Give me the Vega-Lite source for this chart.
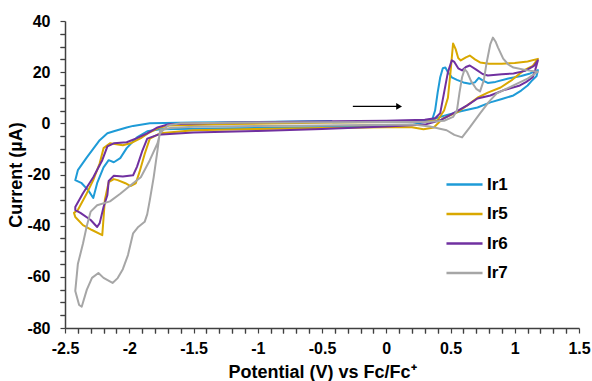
{
  "$schema": "https://vega.github.io/schema/vega-lite/v6.json",
  "width": 514,
  "height": 307,
  "autosize": {"type": "none"},
  "padding": {"left": 65, "top": 21, "right": 13, "bottom": 53},
  "background": "white",
  "config": {
    "view": {"stroke": null},
    "font": "Liberation Sans",
    "legend": {
      "orient": "none",
      "legendX": 380,
      "legendY": 144,
      "title": null,
      "symbolType": "stroke",
      "symbolSize": 1300,
      "symbolStrokeWidth": 2.5,
      "labelFont": "Liberation Sans",
      "labelFontSize": 17,
      "labelFontWeight": "bold",
      "labelColor": "black",
      "rowPadding": 1.5,
      "labelOffset": 3
    },
    "axis": {
      "grid": false,
      "domainColor": "#404040", "domainWidth": 1.5,
      "tickColor": "#404040", "tickWidth": 1.2, "tickSize": 5,
      "labelFont": "Liberation Sans", "labelFontSize": 16, "labelFontWeight": "bold", "labelColor": "black",
      "labelFlush": false, "labelOverlap": false,
      "titleFont": "Liberation Sans", "titleFontSize": 18, "titleFontWeight": "bold", "titleColor": "black"
    }
  },
  "datasets": {
    "cv": [
      {"s":"Ir1","i":0,"E":-0.42,"I":0.4},{"s":"Ir1","i":1,"E":-0.2,"I":0.5},{"s":"Ir1","i":2,"E":0.0,"I":0.6},{"s":"Ir1","i":3,"E":0.2,"I":0.8},{"s":"Ir1","i":4,"E":0.3,"I":1.0},{"s":"Ir1","i":5,"E":0.36,"I":1.8},{"s":"Ir1","i":6,"E":0.38,"I":5},{"s":"Ir1","i":7,"E":0.40,"I":12},{"s":"Ir1","i":8,"E":0.42,"I":18},{"s":"Ir1","i":9,"E":0.44,"I":21.5},{"s":"Ir1","i":10,"E":0.46,"I":21.8},{"s":"Ir1","i":11,"E":0.48,"I":20},{"s":"Ir1","i":12,"E":0.51,"I":18},{"s":"Ir1","i":13,"E":0.55,"I":17},{"s":"Ir1","i":14,"E":0.6,"I":16},{"s":"Ir1","i":15,"E":0.65,"I":15.5},{"s":"Ir1","i":16,"E":0.69,"I":16},{"s":"Ir1","i":17,"E":0.72,"I":17.8},{"s":"Ir1","i":18,"E":0.75,"I":16.8},{"s":"Ir1","i":19,"E":0.79,"I":15.8},{"s":"Ir1","i":20,"E":0.85,"I":16.2},{"s":"Ir1","i":21,"E":0.95,"I":17.5},{"s":"Ir1","i":22,"E":1.05,"I":18.5},{"s":"Ir1","i":23,"E":1.12,"I":19.5},{"s":"Ir1","i":24,"E":1.18,"I":20.8},{"s":"Ir1","i":25,"E":1.17,"I":18.5},{"s":"Ir1","i":26,"E":1.13,"I":16.5},{"s":"Ir1","i":27,"E":1.10,"I":14.8},{"s":"Ir1","i":28,"E":1.05,"I":12.8},{"s":"Ir1","i":29,"E":0.99,"I":10.9},{"s":"Ir1","i":30,"E":0.9,"I":9.5},{"s":"Ir1","i":31,"E":0.81,"I":8.2},{"s":"Ir1","i":32,"E":0.71,"I":6.2},{"s":"Ir1","i":33,"E":0.58,"I":4.7},{"s":"Ir1","i":34,"E":0.46,"I":3.1},{"s":"Ir1","i":35,"E":0.38,"I":1.9},{"s":"Ir1","i":36,"E":0.3,"I":0.5},{"s":"Ir1","i":37,"E":0.2,"I":-0.6},{"s":"Ir1","i":38,"E":0.0,"I":-1.0},{"s":"Ir1","i":39,"E":-0.5,"I":-1.4},{"s":"Ir1","i":40,"E":-1.0,"I":-1.8},{"s":"Ir1","i":41,"E":-1.5,"I":-2.1},{"s":"Ir1","i":42,"E":-1.76,"I":-2.3},{"s":"Ir1","i":43,"E":-1.86,"I":-3.1},{"s":"Ir1","i":44,"E":-1.94,"I":-5.5},{"s":"Ir1","i":45,"E":-2.02,"I":-9.7},{"s":"Ir1","i":46,"E":-2.07,"I":-13.6},{"s":"Ir1","i":47,"E":-2.12,"I":-15.2},{"s":"Ir1","i":48,"E":-2.16,"I":-14.4},{"s":"Ir1","i":49,"E":-2.20,"I":-17.2},{"s":"Ir1","i":50,"E":-2.25,"I":-23.4},{"s":"Ir1","i":51,"E":-2.28,"I":-29.2},{"s":"Ir1","i":52,"E":-2.32,"I":-26.1},{"s":"Ir1","i":53,"E":-2.37,"I":-23.4},{"s":"Ir1","i":54,"E":-2.42,"I":-22.2},{"s":"Ir1","i":55,"E":-2.40,"I":-18.3},{"s":"Ir1","i":56,"E":-2.33,"I":-13.3},{"s":"Ir1","i":57,"E":-2.23,"I":-6.6},{"s":"Ir1","i":58,"E":-2.17,"I":-3.9},{"s":"Ir1","i":59,"E":-2.12,"I":-3.1},{"s":"Ir1","i":60,"E":-2.02,"I":-1.6},{"s":"Ir1","i":61,"E":-1.97,"I":-1.0},{"s":"Ir1","i":62,"E":-1.84,"I":0},{"s":"Ir1","i":63,"E":-1.5,"I":0.3},{"s":"Ir1","i":64,"E":-1.0,"I":0.5},{"s":"Ir1","i":65,"E":-0.6,"I":0.8},{"s":"Ir1","i":66,"E":-0.42,"I":0.9},

      {"s":"Ir5","i":0,"E":-0.42,"I":0.3},{"s":"Ir5","i":1,"E":0.0,"I":0.5},{"s":"Ir5","i":2,"E":0.3,"I":0.6},{"s":"Ir5","i":3,"E":0.4,"I":1.2},{"s":"Ir5","i":4,"E":0.45,"I":5},{"s":"Ir5","i":5,"E":0.48,"I":10},{"s":"Ir5","i":6,"E":0.50,"I":20},{"s":"Ir5","i":7,"E":0.52,"I":31.2},{"s":"Ir5","i":8,"E":0.54,"I":29},{"s":"Ir5","i":9,"E":0.56,"I":25.5},{"s":"Ir5","i":10,"E":0.58,"I":24.6},{"s":"Ir5","i":11,"E":0.62,"I":25.8},{"s":"Ir5","i":12,"E":0.65,"I":26.5},{"s":"Ir5","i":13,"E":0.69,"I":25},{"s":"Ir5","i":14,"E":0.73,"I":23.8},{"s":"Ir5","i":15,"E":0.8,"I":23.3},{"s":"Ir5","i":16,"E":0.9,"I":23.3},{"s":"Ir5","i":17,"E":1.0,"I":23.6},{"s":"Ir5","i":18,"E":1.1,"I":24.2},{"s":"Ir5","i":19,"E":1.18,"I":25.2},{"s":"Ir5","i":20,"E":1.14,"I":22.5},{"s":"Ir5","i":21,"E":1.07,"I":20.7},{"s":"Ir5","i":22,"E":0.98,"I":17},{"s":"Ir5","i":23,"E":0.89,"I":14},{"s":"Ir5","i":24,"E":0.79,"I":12},{"s":"Ir5","i":25,"E":0.71,"I":10},{"s":"Ir5","i":26,"E":0.63,"I":7},{"s":"Ir5","i":27,"E":0.55,"I":4.3},{"s":"Ir5","i":28,"E":0.44,"I":1.9},{"s":"Ir5","i":29,"E":0.37,"I":-1.6},{"s":"Ir5","i":30,"E":0.29,"I":-2.3},{"s":"Ir5","i":31,"E":0.2,"I":-1.5},{"s":"Ir5","i":32,"E":0.0,"I":-1.5},{"s":"Ir5","i":33,"E":-0.5,"I":-1.8},{"s":"Ir5","i":34,"E":-1.0,"I":-2.2},{"s":"Ir5","i":35,"E":-1.5,"I":-2.7},{"s":"Ir5","i":36,"E":-1.76,"I":-3.9},{"s":"Ir5","i":37,"E":-1.84,"I":-6},{"s":"Ir5","i":38,"E":-1.88,"I":-12},{"s":"Ir5","i":39,"E":-1.92,"I":-19},{"s":"Ir5","i":40,"E":-1.95,"I":-23.5},{"s":"Ir5","i":41,"E":-1.99,"I":-24.5},{"s":"Ir5","i":42,"E":-2.03,"I":-23.4},{"s":"Ir5","i":43,"E":-2.09,"I":-22.2},{"s":"Ir5","i":44,"E":-2.12,"I":-21.8},{"s":"Ir5","i":45,"E":-2.16,"I":-23},{"s":"Ir5","i":46,"E":-2.19,"I":-30},{"s":"Ir5","i":47,"E":-2.2,"I":-37},{"s":"Ir5","i":48,"E":-2.21,"I":-43.7},{"s":"Ir5","i":49,"E":-2.29,"I":-41.7},{"s":"Ir5","i":50,"E":-2.36,"I":-39.8},{"s":"Ir5","i":51,"E":-2.42,"I":-36.6},{"s":"Ir5","i":52,"E":-2.43,"I":-35},{"s":"Ir5","i":53,"E":-2.40,"I":-33.9},{"s":"Ir5","i":54,"E":-2.33,"I":-27.3},{"s":"Ir5","i":55,"E":-2.28,"I":-22.2},{"s":"Ir5","i":56,"E":-2.23,"I":-15.6},{"s":"Ir5","i":57,"E":-2.2,"I":-9.7},{"s":"Ir5","i":58,"E":-2.15,"I":-7.8},{"s":"Ir5","i":59,"E":-2.05,"I":-8.6},{"s":"Ir5","i":60,"E":-1.99,"I":-7.8},{"s":"Ir5","i":61,"E":-1.91,"I":-5.8},{"s":"Ir5","i":62,"E":-1.84,"I":-3.5},{"s":"Ir5","i":63,"E":-1.76,"I":-1.6},{"s":"Ir5","i":64,"E":-1.68,"I":-0.8},{"s":"Ir5","i":65,"E":-1.2,"I":-0.3},{"s":"Ir5","i":66,"E":-0.42,"I":0.3},

      {"s":"Ir6","i":0,"E":-0.42,"I":0.8},{"s":"Ir6","i":1,"E":0.0,"I":1.0},{"s":"Ir6","i":2,"E":0.3,"I":1.4},{"s":"Ir6","i":3,"E":0.38,"I":2},{"s":"Ir6","i":4,"E":0.42,"I":4},{"s":"Ir6","i":5,"E":0.45,"I":12},{"s":"Ir6","i":6,"E":0.48,"I":20},{"s":"Ir6","i":7,"E":0.51,"I":24.6},{"s":"Ir6","i":8,"E":0.53,"I":24},{"s":"Ir6","i":9,"E":0.56,"I":21.5},{"s":"Ir6","i":10,"E":0.59,"I":20.7},{"s":"Ir6","i":11,"E":0.62,"I":22},{"s":"Ir6","i":12,"E":0.65,"I":22.6},{"s":"Ir6","i":13,"E":0.7,"I":21},{"s":"Ir6","i":14,"E":0.75,"I":19.3},{"s":"Ir6","i":15,"E":0.79,"I":18.7},{"s":"Ir6","i":16,"E":0.9,"I":19.2},{"s":"Ir6","i":17,"E":0.99,"I":19.5},{"s":"Ir6","i":18,"E":1.08,"I":20.5},{"s":"Ir6","i":19,"E":1.15,"I":22.5},{"s":"Ir6","i":20,"E":1.18,"I":24.6},{"s":"Ir6","i":21,"E":1.16,"I":21},{"s":"Ir6","i":22,"E":1.14,"I":18},{"s":"Ir6","i":23,"E":1.09,"I":16.2},{"s":"Ir6","i":24,"E":1.04,"I":14.8},{"s":"Ir6","i":25,"E":0.91,"I":12.9},{"s":"Ir6","i":26,"E":0.81,"I":10.9},{"s":"Ir6","i":27,"E":0.71,"I":9.7},{"s":"Ir6","i":28,"E":0.63,"I":7},{"s":"Ir6","i":29,"E":0.52,"I":3.9},{"s":"Ir6","i":30,"E":0.42,"I":1.2},{"s":"Ir6","i":31,"E":0.3,"I":-0.5},{"s":"Ir6","i":32,"E":0.0,"I":-1.2},{"s":"Ir6","i":33,"E":-0.5,"I":-2.2},{"s":"Ir6","i":34,"E":-1.0,"I":-3.0},{"s":"Ir6","i":35,"E":-1.5,"I":-3.6},{"s":"Ir6","i":36,"E":-1.78,"I":-4.5},{"s":"Ir6","i":37,"E":-1.86,"I":-6},{"s":"Ir6","i":38,"E":-1.90,"I":-11},{"s":"Ir6","i":39,"E":-1.94,"I":-17},{"s":"Ir6","i":40,"E":-1.97,"I":-20.3},{"s":"Ir6","i":41,"E":-2.05,"I":-20.8},{"s":"Ir6","i":42,"E":-2.12,"I":-20.5},{"s":"Ir6","i":43,"E":-2.16,"I":-22.5},{"s":"Ir6","i":44,"E":-2.17,"I":-28},{"s":"Ir6","i":45,"E":-2.20,"I":-32.7},{"s":"Ir6","i":46,"E":-2.23,"I":-39},{"s":"Ir6","i":47,"E":-2.25,"I":-40.5},{"s":"Ir6","i":48,"E":-2.30,"I":-37.8},{"s":"Ir6","i":49,"E":-2.38,"I":-35},{"s":"Ir6","i":50,"E":-2.42,"I":-33.9},{"s":"Ir6","i":51,"E":-2.42,"I":-32.7},{"s":"Ir6","i":52,"E":-2.36,"I":-27.3},{"s":"Ir6","i":53,"E":-2.28,"I":-21.1},{"s":"Ir6","i":54,"E":-2.21,"I":-14.4},{"s":"Ir6","i":55,"E":-2.17,"I":-9},{"s":"Ir6","i":56,"E":-2.12,"I":-7.8},{"s":"Ir6","i":57,"E":-2.02,"I":-7.4},{"s":"Ir6","i":58,"E":-1.94,"I":-5.8},{"s":"Ir6","i":59,"E":-1.86,"I":-3.9},{"s":"Ir6","i":60,"E":-1.78,"I":-1.6},{"s":"Ir6","i":61,"E":-1.70,"I":-0.4},{"s":"Ir6","i":62,"E":-1.2,"I":0.3},{"s":"Ir6","i":63,"E":-0.42,"I":0.8},

      {"s":"Ir7","i":0,"E":-0.42,"I":0.4},{"s":"Ir7","i":1,"E":0.0,"I":0.5},{"s":"Ir7","i":2,"E":0.3,"I":0.5},{"s":"Ir7","i":3,"E":0.45,"I":1},{"s":"Ir7","i":4,"E":0.52,"I":2.5},{"s":"Ir7","i":5,"E":0.55,"I":5},{"s":"Ir7","i":6,"E":0.57,"I":12},{"s":"Ir7","i":7,"E":0.59,"I":18},{"s":"Ir7","i":8,"E":0.61,"I":21.2},{"s":"Ir7","i":9,"E":0.63,"I":20},{"s":"Ir7","i":10,"E":0.66,"I":16.5},{"s":"Ir7","i":11,"E":0.70,"I":13.5},{"s":"Ir7","i":12,"E":0.73,"I":12.5},{"s":"Ir7","i":13,"E":0.76,"I":17},{"s":"Ir7","i":14,"E":0.78,"I":23.4},{"s":"Ir7","i":15,"E":0.81,"I":31},{"s":"Ir7","i":16,"E":0.83,"I":33.5},{"s":"Ir7","i":17,"E":0.85,"I":32},{"s":"Ir7","i":18,"E":0.87,"I":29.6},{"s":"Ir7","i":19,"E":0.91,"I":25.3},{"s":"Ir7","i":20,"E":0.95,"I":23},{"s":"Ir7","i":21,"E":0.99,"I":21.8},{"s":"Ir7","i":22,"E":1.1,"I":20.7},{"s":"Ir7","i":23,"E":1.18,"I":20.2},{"s":"Ir7","i":24,"E":1.1,"I":17.5},{"s":"Ir7","i":25,"E":0.99,"I":14.8},{"s":"Ir7","i":26,"E":0.86,"I":11.7},{"s":"Ir7","i":27,"E":0.8,"I":8.5},{"s":"Ir7","i":28,"E":0.73,"I":3.9},{"s":"Ir7","i":29,"E":0.65,"I":-1.6},{"s":"Ir7","i":30,"E":0.59,"I":-5.5},{"s":"Ir7","i":31,"E":0.53,"I":-4.5},{"s":"Ir7","i":32,"E":0.47,"I":-2.7},{"s":"Ir7","i":33,"E":0.34,"I":-1.2},{"s":"Ir7","i":34,"E":0.21,"I":-0.5},{"s":"Ir7","i":35,"E":0.0,"I":-0.6},{"s":"Ir7","i":36,"E":-0.5,"I":-0.8},{"s":"Ir7","i":37,"E":-1.0,"I":-1.0},{"s":"Ir7","i":38,"E":-1.5,"I":-1.3},{"s":"Ir7","i":39,"E":-1.68,"I":-1.8},{"s":"Ir7","i":40,"E":-1.76,"I":-2.7},{"s":"Ir7","i":41,"E":-1.78,"I":-10.5},{"s":"Ir7","i":42,"E":-1.81,"I":-21.1},{"s":"Ir7","i":43,"E":-1.84,"I":-30},{"s":"Ir7","i":44,"E":-1.86,"I":-35.5},{"s":"Ir7","i":45,"E":-1.88,"I":-38.5},{"s":"Ir7","i":46,"E":-1.93,"I":-40.5},{"s":"Ir7","i":47,"E":-1.97,"I":-43},{"s":"Ir7","i":48,"E":-2.01,"I":-51.5},{"s":"Ir7","i":49,"E":-2.05,"I":-57},{"s":"Ir7","i":50,"E":-2.09,"I":-60.5},{"s":"Ir7","i":51,"E":-2.13,"I":-62.4},{"s":"Ir7","i":52,"E":-2.2,"I":-60.4},{"s":"Ir7","i":53,"E":-2.24,"I":-58.5},{"s":"Ir7","i":54,"E":-2.29,"I":-60.4},{"s":"Ir7","i":55,"E":-2.33,"I":-65},{"s":"Ir7","i":56,"E":-2.37,"I":-71.7},{"s":"Ir7","i":57,"E":-2.39,"I":-71},{"s":"Ir7","i":58,"E":-2.42,"I":-65.5},{"s":"Ir7","i":59,"E":-2.40,"I":-55},{"s":"Ir7","i":60,"E":-2.36,"I":-47},{"s":"Ir7","i":61,"E":-2.33,"I":-40},{"s":"Ir7","i":62,"E":-2.30,"I":-34.5},{"s":"Ir7","i":63,"E":-2.25,"I":-32},{"s":"Ir7","i":64,"E":-2.15,"I":-30.5},{"s":"Ir7","i":65,"E":-2.07,"I":-27.5},{"s":"Ir7","i":66,"E":-1.97,"I":-23.4},{"s":"Ir7","i":67,"E":-1.91,"I":-21.1},{"s":"Ir7","i":68,"E":-1.84,"I":-14.4},{"s":"Ir7","i":69,"E":-1.78,"I":-7.8},{"s":"Ir7","i":70,"E":-1.76,"I":-3.9},{"s":"Ir7","i":71,"E":-1.70,"I":-0.8},{"s":"Ir7","i":72,"E":-1.6,"I":0},{"s":"Ir7","i":73,"E":-1.0,"I":0.3},{"s":"Ir7","i":74,"E":-0.42,"I":0.4}
    ],
    "arrow": [
      {"E": -0.26, "E2": 0.1, "I": 6.6}
    ]
  },
  "resolve": {"axis": {"x": "independent", "y": "independent"}},
  "layer": [
    {
      "data": {"name": "cv"},
      "mark": {"type": "line", "strokeWidth": 2, "strokeJoin": "round"},
      "encoding": {
        "x": {
          "field": "E", "type": "quantitative",
          "scale": {"domain": [-2.5, 1.5], "nice": false, "zero": false},
          "axis": {
            "orient": "bottom",
            "title": "Potential (V) vs Fc/Fc⁺",
            "values": [-2.5,-2,-1.5,-1,-0.5,0,0.5,1,1.5],
            "labelExpr": "'' + datum.value",
            "labelPadding": 7,
            "titlePadding": 7
          }
        },
        "y": {
          "field": "I", "type": "quantitative",
          "scale": {"domain": [-80, 40], "nice": false, "zero": false},
          "axis": {
            "orient": "left",
            "title": "Current (µA)",
            "values": [-80,-60,-40,-20,0,20,40],
            "labelExpr": "'' + datum.value",
            "labelPadding": 10,
            "titlePadding": 1
          }
        },
        "color": {
          "field": "s", "type": "nominal",
          "scale": {"domain": ["Ir1","Ir5","Ir6","Ir7"], "range": ["#1E9BD7","#D9A800","#7030A0","#A6A6A6"]},
          "legend": {}
        },
        "order": {"field": "i", "type": "quantitative"}
      }
    },
    {
      "data": {"name": "arrow"},
      "mark": {"type": "rule", "color": "black", "strokeWidth": 1.3},
      "encoding": {
        "x": {"field": "E", "type": "quantitative", "axis": {"orient": "bottom", "title": null, "labels": false, "domain": false, "values": [-2.4,-2.3,-2.2,-2.1,-1.9,-1.8,-1.7,-1.6,-1.4,-1.3,-1.2,-1.1,-0.9,-0.8,-0.7,-0.6,-0.4,-0.3,-0.2,-0.1,0.1,0.2,0.3,0.4,0.6,0.7,0.8,0.9,1.1,1.2,1.3,1.4]}},
        "x2": {"field": "E2"},
        "y": {"field": "I", "type": "quantitative", "axis": {"orient": "left", "title": null, "labels": false, "domain": false, "values": [-75,-70,-65,-55,-50,-45,-35,-30,-25,-15,-10,-5,5,10,15,25,30,35]}}
      }
    },
    {
      "data": {"name": "arrow"},
      "mark": {"type": "point", "shape": "triangle-right", "filled": true, "color": "black", "size": 45, "opacity": 1},
      "encoding": {
        "x": {"field": "E2", "type": "quantitative", "axis": {"orient": "bottom", "title": null, "labels": false, "domain": false, "values": [-2.4,-2.3,-2.2,-2.1,-1.9,-1.8,-1.7,-1.6,-1.4,-1.3,-1.2,-1.1,-0.9,-0.8,-0.7,-0.6,-0.4,-0.3,-0.2,-0.1,0.1,0.2,0.3,0.4,0.6,0.7,0.8,0.9,1.1,1.2,1.3,1.4]}},
        "y": {"field": "I", "type": "quantitative", "axis": {"orient": "left", "title": null, "labels": false, "domain": false, "values": [-75,-70,-65,-55,-50,-45,-35,-30,-25,-15,-10,-5,5,10,15,25,30,35]}}
      }
    }
  ]
}
